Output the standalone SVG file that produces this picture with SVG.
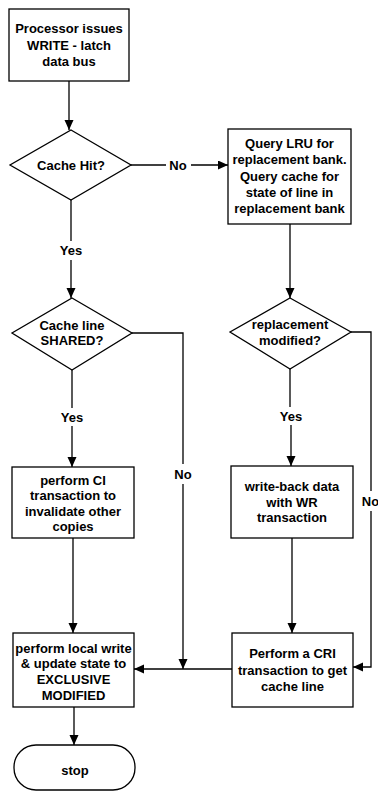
<svg xmlns="http://www.w3.org/2000/svg" width="378" height="792" viewBox="0 0 378 792">
  <style>
    .shape { fill: #ffffff; stroke: #000000; stroke-width: 1.3; }
    .line { fill: none; stroke: #000000; stroke-width: 1.3; }
    .arrow { marker-end: url(#head); }
    text { font-family: "Liberation Sans", Arial, sans-serif; font-weight: bold; font-size: 13px; fill: #000000; text-anchor: middle; }
  </style>
  <defs>
    <marker id="head" markerUnits="userSpaceOnUse" markerWidth="11" markerHeight="10" refX="10" refY="4.5" orient="auto">
      <path d="M0,0 L10,4.5 L0,9 z" fill="#000000"/>
    </marker>
  </defs>

  <!-- connectors -->
  <g id="connectors">
    <path class="line arrow" d="M69,81 V130"/>
    <path class="line" d="M131,165 H166"/>
    <text x="178" y="169.5">No</text>
    <path class="line arrow" d="M191,165 H228"/>
    <path class="line" d="M71,200 V241"/>
    <text x="71" y="254.5">Yes</text>
    <path class="line arrow" d="M71,260 V298"/>
    <path class="line" d="M72,370 V408"/>
    <text x="72" y="421.5">Yes</text>
    <path class="line arrow" d="M72,426 V467"/>
    <path class="line arrow" d="M73,538 V633"/>
    <path class="line" d="M132,333 H183 V464"/>
    <text x="183" y="478.5">No</text>
    <path class="line arrow" d="M183,484 V669"/>
    <path class="line arrow" d="M232,669 H134"/>
    <path class="line arrow" d="M74,707 V745"/>
    <path class="line arrow" d="M290,224 V298"/>
    <path class="line" d="M290,369 V407"/>
    <text x="291" y="420.5">Yes</text>
    <path class="line arrow" d="M291,425 V466"/>
    <path class="line arrow" d="M292,538 V633"/>
    <path class="line" d="M351,332 H371 V491"/>
    <text x="370.5" y="505.5">No</text>
    <path class="line arrow" d="M371,511 V667 H353"/>
  </g>

  <!-- nodes -->
  <g id="start">
    <rect class="shape" x="9" y="9" width="120" height="72"/>
    <text x="69" y="33">Processor issues</text>
    <text x="69" y="49.5">WRITE - latch</text>
    <text x="69" y="66">data bus</text>
  </g>

  <g id="cache-hit">
    <polygon class="shape" points="71,130 131,165 71,200 10,165"/>
    <text x="71" y="169.5">Cache Hit?</text>
  </g>

  <g id="query-lru">
    <rect class="shape" x="228" y="129" width="123" height="95"/>
    <text x="289.5" y="147.5">Query LRU for</text>
    <text x="289.5" y="164">replacement bank.</text>
    <text x="289.5" y="180.5">Query cache for</text>
    <text x="289.5" y="196.5">state of line in</text>
    <text x="289.5" y="212.5">replacement bank</text>
  </g>

  <g id="line-shared">
    <polygon class="shape" points="72,298 132,333 72,370 12,333"/>
    <text x="72" y="329.5">Cache line</text>
    <text x="72" y="345">SHARED?</text>
  </g>

  <g id="replacement-modified">
    <polygon class="shape" points="290,298 351,332 290,369 230,332"/>
    <text x="290" y="328.5">replacement</text>
    <text x="290" y="345">modified?</text>
  </g>

  <g id="ci-transaction">
    <rect class="shape" x="12" y="467" width="122" height="71"/>
    <text x="73" y="484.5">perform CI</text>
    <text x="73" y="500">transaction to</text>
    <text x="73" y="515.5">invalidate other</text>
    <text x="73" y="531">copies</text>
  </g>

  <g id="write-back">
    <rect class="shape" x="231" y="466" width="122" height="72"/>
    <text x="292" y="491">write-back data</text>
    <text x="292" y="506.5">with WR</text>
    <text x="292" y="522">transaction</text>
  </g>

  <g id="local-write">
    <rect class="shape" x="13" y="633" width="121" height="74"/>
    <text x="73.5" y="652.5">perform local write</text>
    <text x="73.5" y="668">&amp; update state to</text>
    <text x="73.5" y="684">EXCLUSIVE</text>
    <text x="73.5" y="700">MODIFIED</text>
  </g>

  <g id="cri-transaction">
    <rect class="shape" x="232" y="633" width="121" height="74"/>
    <text x="292.5" y="658">Perform a CRI</text>
    <text x="292.5" y="674.5">transaction to get</text>
    <text x="292.5" y="690.5">cache line</text>
  </g>

  <g id="stop">
    <rect class="shape" x="14" y="745" width="121" height="45" rx="22" ry="22"/>
    <text x="75" y="774.5">stop</text>
  </g>
</svg>
